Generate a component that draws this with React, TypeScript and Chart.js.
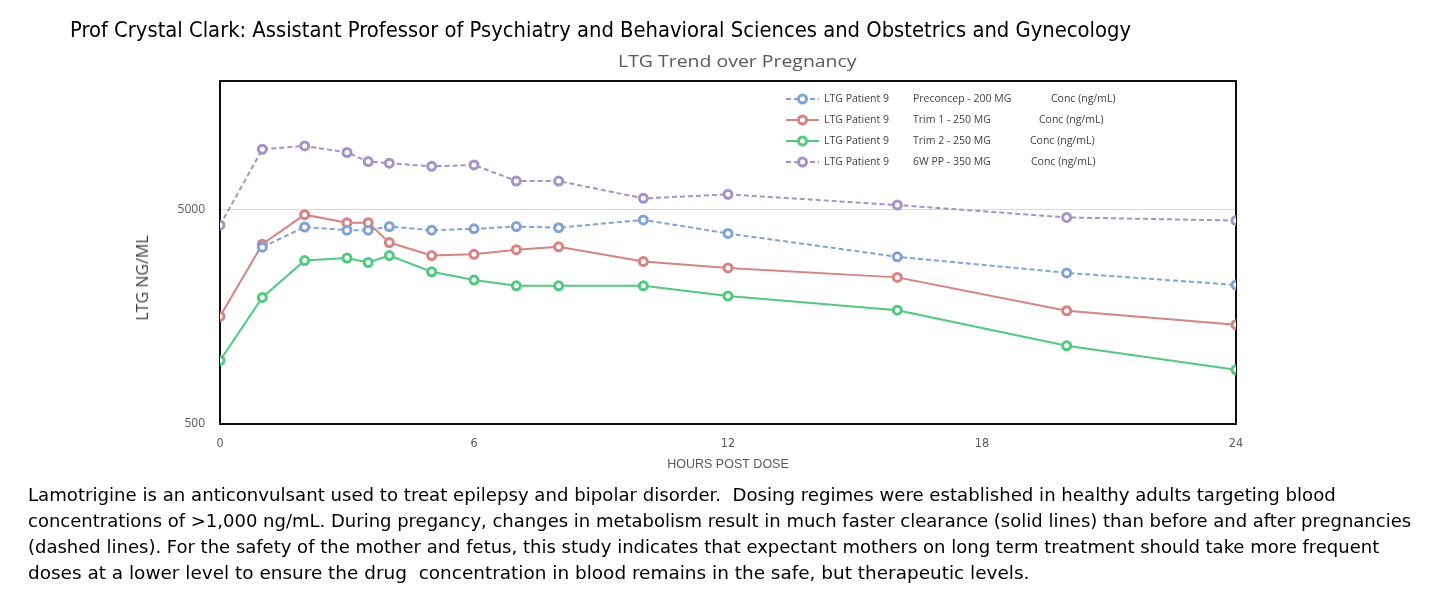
import React, { useEffect, useLayoutEffect, useRef } from "react";
import { Chart, registerables } from "chart.js";

Chart.register(...registerables);

// ---------- data ----------
const hours = [0, 1, 2, 3, 3.5, 4, 5, 6, 7, 8, 10, 12, 16, 20, 24];
const preconcepConc = [null, 3350, 4160, 4020, 4020, 4180, 4020, 4080, 4180, 4130, 4490, 3880, 3020, 2540, 2230];
const trim1Conc = [1590, 3460, 4750, 4360, 4360, 3520, 3060, 3100, 3260, 3360, 2870, 2680, 2420, 1690, 1455];
const trim2Conc = [990, 1950, 2900, 2980, 2840, 3060, 2570, 2350, 2210, 2210, 2210, 1980, 1700, 1160, 895];
const ppConc = [4240, 9600, 9950, 9270, 8410, 8260, 7990, 8110, 6820, 6820, 5660, 5910, 5270, 4610, 4460];

const seriesPatients = ["LTG Patient 9", "LTG Patient 9", "LTG Patient 9", "LTG Patient 9"];
const seriesDoses = ["Preconcep - 200 MG", "Trim 1 - 250 MG", "Trim 2 - 250 MG", "6W PP - 350 MG"];
const seriesUnit = "Conc (ng/mL)";

const yTickValues = [500, 5000];
const xTickValues = [0, 6, 12, 18, 24];

const pageTitle = "Prof Crystal Clark: Assistant Professor of Psychiatry and Behavioral Sciences and Obstetrics and Gynecology";
const chartTitle = "LTG Trend over Pregnancy";
const yAxisTitle = "LTG NG/ML";
const xAxisTitle = "HOURS POST DOSE";
const captionLines = [
  "Lamotrigine is an anticonvulsant used to treat epilepsy and bipolar disorder.  Dosing regimes were established in healthy adults targeting blood",
  "concentrations of >1,000 ng/mL. During pregancy, changes in metabolism result in much faster clearance (solid lines) than before and after pregnancies",
  "(dashed lines). For the safety of the mother and fetus, this study indicates that expectant mothers on long term treatment should take more frequent",
  "doses at a lower level to ensure the drug  concentration in blood remains in the safe, but therapeutic levels.",
];

// ---------- styles ----------
const COLORS = ["#7FA3D6", "#D98283", "#4DCB7E", "#A493CB"];
const DASHED = [true, false, false, true];
const NARROW = "'Liberation Sans Narrow', 'DejaVu Sans Condensed', 'Liberation Sans', sans-serif";

type FitProps = {
  text: string;
  x: number;
  y: number;
  width: number;
  size: number;
  family: string;
  color: string;
  rotate?: boolean;
};

function FitText({ text, x, y, width, size, family, color, rotate }: FitProps) {
  const ref = useRef<HTMLSpanElement>(null);
  useLayoutEffect(() => {
    const el = ref.current;
    if (!el) return;
    const w = el.offsetWidth || 1;
    const k = width / w;
    el.style.transform = rotate
      ? `translate(-50%, -50%) rotate(-90deg) scaleX(${k})`
      : `translateY(-50%) scaleX(${k})`;
    el.style.visibility = "visible";
  }, [text, width]);
  if (rotate) {
    return (
      <div style={{ position: "absolute", left: x, top: y, width: 0, height: 0 }}>
        <span
          ref={ref}
          style={{
            position: "absolute",
            left: 0,
            top: 0,
            whiteSpace: "pre",
            fontFamily: family,
            fontSize: size,
            lineHeight: 1,
            color,
            transformOrigin: "center center",
            visibility: "hidden",
          }}
        >
          {text}
        </span>
      </div>
    );
  }
  return (
    <span
      ref={ref}
      style={{
        position: "absolute",
        left: x,
        top: y,
        whiteSpace: "pre",
        fontFamily: family,
        fontSize: size,
        lineHeight: 1,
        color,
        transformOrigin: "left center",
        visibility: "hidden",
      }}
    >
      {text}
    </span>
  );
}

const plotBorderPlugin = {
  id: "plotBorder",
  beforeDatasetsDraw(chart: any) {
    const { ctx, chartArea } = chart;
    ctx.save();
    ctx.strokeStyle = "#0d0d0d";
    ctx.lineWidth = 2;
    ctx.strokeRect(chartArea.left, chartArea.top, chartArea.right - chartArea.left, chartArea.bottom - chartArea.top);
    ctx.restore();
  },
};

const insideLegendPlugin = {
  id: "insideLegend",
  afterDatasetsDraw(chart: any, _args: any, opts: any) {
    const ctx = chart.ctx;
    chart.data.datasets.forEach((ds: any, i: number) => {
      const y = opts.top + i * opts.rowGap;
      ctx.save();
      ctx.strokeStyle = ds.borderColor;
      ctx.lineWidth = ds.borderWidth;
      ctx.setLineDash(ds.borderDash || []);
      ctx.beginPath();
      ctx.moveTo(opts.lineX0, y);
      ctx.lineTo(opts.lineX1, y);
      ctx.stroke();
      ctx.setLineDash([]);
      ctx.beginPath();
      ctx.arc((opts.lineX0 + opts.lineX1) / 2, y, ds.pointRadius, 0, Math.PI * 2);
      ctx.fillStyle = "#ffffff";
      ctx.fill();
      ctx.lineWidth = ds.pointBorderWidth;
      ctx.strokeStyle = ds.borderColor;
      ctx.stroke();
      ctx.fillStyle = opts.color;
      ctx.font = opts.font;
      ctx.textBaseline = "middle";
      ctx.textAlign = "left";
      ctx.fillText(seriesPatients[i], opts.col1, y);
      ctx.fillText(seriesDoses[i], opts.col2, y);
      ctx.fillText(seriesUnit, opts.col3[i], y);
      ctx.restore();
    });
  },
};

function LtgChart() {
  const canvasRef = useRef<HTMLCanvasElement>(null);
  useEffect(() => {
    const canvas = canvasRef.current;
    if (!canvas) return;
    const seriesValues = [preconcepConc, trim1Conc, trim2Conc, ppConc];
    const datasets = seriesValues.map((vals, i) => ({
      label: `${seriesPatients[i]}   ${seriesDoses[i]}   ${seriesUnit}`,
      data: hours.map((h, j) => ({ x: h, y: vals[j] })),
      borderColor: COLORS[i],
      backgroundColor: COLORS[i],
      borderWidth: 2,
      borderDash: DASHED[i] ? [5, 3] : [],
      pointRadius: 4,
      pointBorderWidth: 3,
      pointBackgroundColor: "#ffffff",
      pointBorderColor: COLORS[i],
      tension: 0,
      spanGaps: false,
    }));
    const chart = new Chart(canvas, {
      type: "line",
      data: { datasets },
      plugins: [plotBorderPlugin, insideLegendPlugin],
      options: {
        animation: false,
        responsive: false,
        devicePixelRatio: 1,
        layout: { padding: { left: 150, top: 81, right: 204, bottom: 126 } },
        plugins: {
          legend: { display: false },
          tooltip: { enabled: false },
          insideLegend: {
            top: 99,
            rowGap: 21,
            lineX0: 786,
            lineX1: 819,
            col1: 824,
            col2: 913,
            col3: [1051, 1039, 1030, 1031],
            font: "10.5px 'Open Sans', sans-serif",
            color: "#404040",
          },
        } as any,
        scales: {
          x: {
            type: "linear",
            min: 0,
            max: 24,
            afterFit: (scale: any) => {
              scale.height = 50;
            },
            afterBuildTicks: (scale: any) => {
              scale.ticks = xTickValues.map((v) => ({ value: v }));
            },
            grid: { display: false, drawTicks: false },
            border: { display: false },
            ticks: {
              color: "#595959",
              padding: 12,
              font: { family: NARROW, size: 12.5 },
              maxRotation: 0,
            },
            title: {
              display: true,
              text: xAxisTitle,
              color: "#595959",
              font: { family: "'Liberation Sans', sans-serif", size: 12.5 },
              padding: { top: 0, bottom: 2 },
            },
          },
          y: {
            type: "logarithmic",
            min: 500,
            max: 20000,
            afterFit: (scale: any) => {
              scale.width = 70;
            },
            afterBuildTicks: (scale: any) => {
              scale.ticks = yTickValues.map((v) => ({ value: v }));
            },
            grid: { color: "#d9d9d9", lineWidth: 1, drawTicks: false },
            border: { display: false },
            ticks: {
              color: "#595959",
              padding: 15,
              font: { family: "'Open Sans', sans-serif", size: 12 },
              callback: (v: any) => String(v),
            },
            title: { display: false },
          },
        },
      } as any,
    });
    return () => chart.destroy();
  }, []);
  return (
    <canvas
      ref={canvasRef}
      width={1440}
      height={600}
      style={{ position: "absolute", left: 0, top: 0, width: 1440, height: 600 }}
    />
  );
}

export default function App() {
  const captionY = [495, 521, 547, 573];
  const captionW = [1308, 1383, 1351, 1001];
  return (
    <div style={{ position: "absolute", left: 0, top: 0, width: 1440, height: 600, background: "#ffffff", overflow: "hidden" }}>
      <LtgChart />
      <FitText text={pageTitle} x={70} y={30} width={1061} size={21} family={NARROW} color="#000000" />
      <FitText text={chartTitle} x={618} y={60} width={239} size={17} family="'Open Sans', sans-serif" color="#595959" />
      <FitText text={yAxisTitle} x={141.5} y={277.5} width={85} size={16} family="'Open Sans', sans-serif" color="#404040" rotate />
      {captionLines.map((line, i) => (
        <FitText key={i} text={line} x={28} y={captionY[i]} width={captionW[i]} size={18.5} family={NARROW} color="#000000" />
      ))}
    </div>
  );
}
